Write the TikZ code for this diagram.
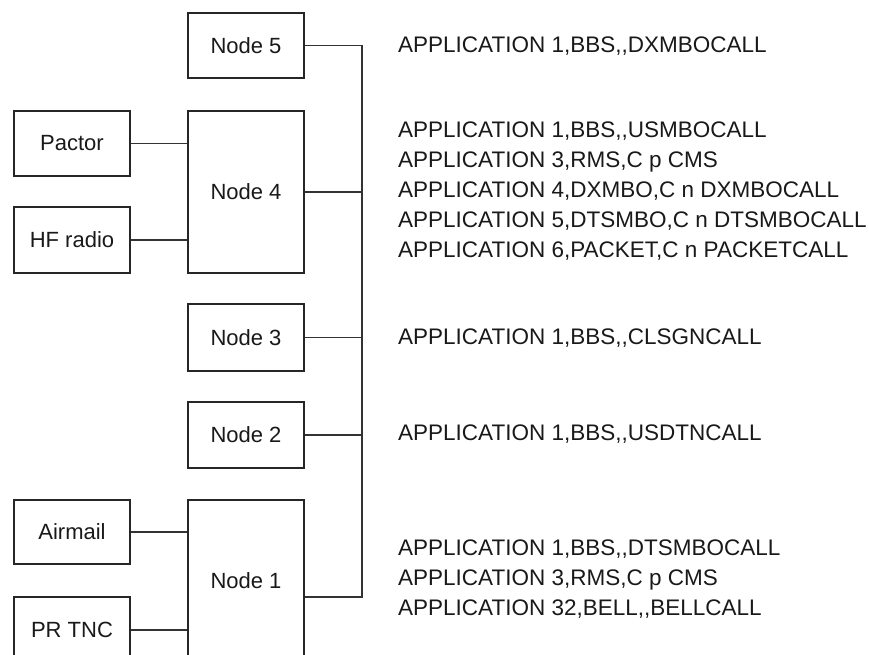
\documentclass[tikz,border=0pt]{standalone}
\usepackage{fontspec}
\setmainfont[Ligatures=TeXOff]{Liberation Sans}
\begin{document}
\begin{tikzpicture}[x=1pt,y=-1pt,
  box/.style={draw=black!85, line width=1.3pt, fill=white, minimum width=116pt, inner sep=0pt, text=black!90, font=\fontsize{22}{26}\selectfont},
  info/.style={anchor=north west, inner sep=0pt, align=left, text=black!90, font=\fontsize{22.5}{30}\selectfont},
  wire/.style={draw=black!80, line width=1.3pt}]
\useasboundingbox (0,0) rectangle (869,654);
\clip (0,0) rectangle (869,654);
% left devices
\node[box, minimum height=65pt] (pactor) at (72,143.5) {Pactor};
\node[box, minimum height=66pt] (hf) at (72,240) {HF radio};
\node[box, minimum height=64pt] (air) at (72,532) {Airmail};
\node[box, minimum height=66pt] (prtnc) at (72,630) {PR TNC};
% nodes
\node[box, minimum height=65pt] (n5) at (246,45.5) {Node 5};
\node[box, minimum height=162pt] (n4) at (246,192) {Node 4};
\node[box, minimum height=67pt] (n3) at (246,337.5) {Node 3};
\node[box, minimum height=66pt] (n2) at (246,435) {Node 2};
\node[box, minimum height=162pt] (n1) at (246,581) {Node 1};
% connectors
\draw[wire] (pactor.east) -- (pactor.east -| n4.west);
\draw[wire] (hf.east) -- (hf.east -| n4.west);
\draw[wire] (air.east) -- (air.east -| n1.west);
\draw[wire] (prtnc.east) -- (prtnc.east -| n1.west);
\coordinate (bustop) at (362,45.5);
\coordinate (busbot) at (362,597);
\draw[wire] (n5.east) -- (bustop) -- (busbot) -- (busbot -| n1.east);
\draw[wire] (n4.east) -- (n4.east -| bustop);
\draw[wire] (n3.east) -- (n3.east -| bustop);
\draw[wire] (n2.east) -- (n2.east -| bustop);
% application texts
\node[info] (t5) at (398,37) {APPLICATION 1,BBS,,DXMBOCALL};
\node[info] (t4) at (398,122) {APPLICATION 1,BBS,,USMBOCALL\\APPLICATION 3,RMS,C p CMS\\APPLICATION 4,DXMBO,C n DXMBOCALL\\APPLICATION 5,DTSMBO,C n DTSMBOCALL\\APPLICATION 6,PACKET,C n PACKETCALL};
\node[info] (t3) at (398,329) {APPLICATION 1,BBS,,CLSGNCALL};
\node[info] (t2) at (398,425) {APPLICATION 1,BBS,,USDTNCALL};
\node[info] (t1) at (398,540) {APPLICATION 1,BBS,,DTSMBOCALL\\APPLICATION 3,RMS,C p CMS\\APPLICATION 32,BELL,,BELLCALL};
\end{tikzpicture}
\end{document}
